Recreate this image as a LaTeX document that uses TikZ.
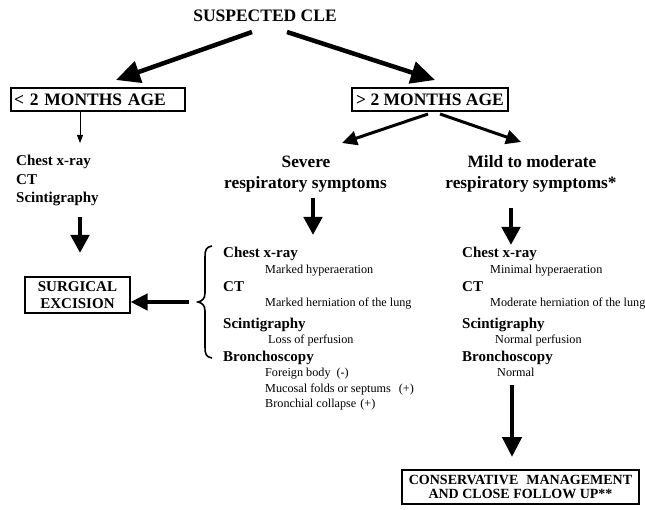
\documentclass[tikz,border=0pt]{standalone}
\usepackage{fontspec}
\setmainfont{Liberation Serif}
\usetikzlibrary{arrows.meta}
\begin{document}
\begin{tikzpicture}[x=1pt,y=-1pt,
  hd/.style={font=\fontsize{17.5}{20}\selectfont\bfseries, inner sep=0pt, anchor=base},
  hdtwo/.style={font=\fontsize{17.3}{20}\selectfont\bfseries, inner sep=0pt, anchor=base},
  item/.style={font=\fontsize{15}{18}\selectfont\bfseries, inner sep=0pt, anchor=base west},
  sub/.style={font=\fontsize{12.2}{14}\selectfont, inner sep=0pt, anchor=base west},
  agebox/.style={draw, line width=1.1pt, font=\fontsize{17.5}{20}\selectfont\bfseries, inner xsep=3pt, inner ysep=0pt, minimum height=23pt},
  endbox/.style={draw, line width=1.1pt, inner sep=0pt, align=center},
  bigarrow/.style={line width=4.5pt, -{Triangle[length=24pt,width=22pt]}},
  midarrow/.style={line width=3pt, -{Triangle[length=15pt,width=14pt]}},
  vertarrow/.style={line width=4.5pt, -{Triangle[length=18pt,width=18pt]}},
  thinarrow/.style={line width=1pt, -{Triangle[length=8pt,width=6pt]}},
  bracestyle/.style={line width=1.6pt}
]
\path[use as bounding box, fill=white] (0,0) rectangle (645,510);

% top
\node[hd] (cle) at (265,22) {SUSPECTED CLE};
\node[agebox, text width=168pt, align=left] (lt) at (98,99.5) {< 2 MONTHS AGE};
\node[agebox, minimum width=156pt] (rt) at (430,99.5) {> 2 MONTHS AGE};

\coordinate (cleL) at (252,32);
\coordinate (cleR) at (287,32);
\coordinate (ltTip) at (116,80);
\coordinate (rtTip) at (435,80);
\draw[bigarrow] (cleL) -- (ltTip);
\draw[bigarrow] (cleR) -- (rtTip);

% left branch
\coordinate (ltOut) at (80,111);
\coordinate (lcIn) at (80,143);
\draw[thinarrow] (ltOut) -- (lcIn);
\node[item] (lc) at (16,166) {Chest x-ray};
\node[item] (lct) at (16,185) {CT};
\node[item] (lsc) at (16,203) {Scintigraphy};
\coordinate (lscOut) at (80,217);
\coordinate (surgIn) at (80,253);
\draw[vertarrow] (lscOut) -- (surgIn);
\node[endbox, minimum width=105pt, minimum height=36pt, font=\fontsize{15}{17}\selectfont\bfseries] (surg) at (77.5,295) {SURGICAL\\EXCISION};

% right branch
\coordinate (rtOutL) at (428,114);
\coordinate (rtOutR) at (440,114);
\coordinate (sevTip) at (342,143);
\coordinate (mildTip) at (521,142);
\draw[midarrow] (rtOutL) -- (sevTip);
\draw[midarrow] (rtOutR) -- (mildTip);

\node[hdtwo] (sev1) at (306,168) {Severe};
\node[hdtwo] (sev2) at (305.5,189) {respiratory symptoms};
\node[hdtwo] (mild1) at (532,168) {Mild to moderate};
\node[hdtwo] (mild2) at (531,189) {respiratory symptoms*};

\coordinate (sevOut) at (313,198);
\coordinate (sevIn) at (313,235);
\draw[vertarrow] (sevOut) -- (sevIn);
\coordinate (mildOut) at (511,208);
\coordinate (mildIn) at (511,245);
\draw[vertarrow] (mildOut) -- (mildIn);

% severe list
\node[item] (sc) at (223,258) {Chest x-ray};
\node[sub] (sc1) at (265,274) {Marked hyperaeration};
\node[item] (sct) at (223,292) {CT};
\node[sub] (sct1) at (265,307) {Marked herniation of the lung};
\node[item] (ss) at (223,329) {Scintigraphy};
\node[sub] (ss1) at (268,344) {Loss of perfusion};
\node[item] (sb) at (223,362) {Bronchoscopy};
\node[sub] (sb1) at (265,377) {Foreign body\hspace{6pt}(-)};
\node[sub] (sb2) at (265,392) {Mucosal folds or septums\hspace{8pt}(+)};
\node[sub] (sb3) at (265,407) {Bronchial collapse\hspace{4pt}(+)};

% brace
\draw[bracestyle] (212,246) .. controls (206,247) and (205,250) .. (205,257)
  -- (205,293) .. controls (205,299) and (202,301) .. (198,302)
  .. controls (202,303) and (205,305) .. (205,311)
  -- (205,347) .. controls (205,354) and (206,357) .. (212,358);
\coordinate (braceTip) at (189,302);
\draw[line width=4.5pt, -{Triangle[length=17pt,width=16pt]}] (braceTip) -- (braceTip -| surg.east);

% mild list
\node[item] (mc) at (462,258) {Chest x-ray};
\node[sub] (mc1) at (490,274) {Minimal hyperaeration};
\node[item] (mct) at (462,292) {CT};
\node[sub] (mct1) at (490,307) {Moderate herniation of the lung};
\node[item] (ms) at (462,329) {Scintigraphy};
\node[sub] (ms1) at (495,344) {Normal perfusion};
\node[item] (mb) at (462,362) {Bronchoscopy};
\node[sub] (mb1) at (497,377) {Normal};

\node[endbox, minimum width=237pt, minimum height=34pt, font=\fontsize{14}{14.5}\selectfont\bfseries] (cons) at (520.5,487) {CONSERVATIVE\hspace{8pt}MANAGEMENT\\AND CLOSE FOLLOW UP**};
\coordinate (mbOut) at (512,385);
\draw[line width=4.5pt, -{Triangle[length=20pt,width=19pt]}] (mbOut) -- (mbOut |- 0,457);
\end{tikzpicture}
\end{document}
